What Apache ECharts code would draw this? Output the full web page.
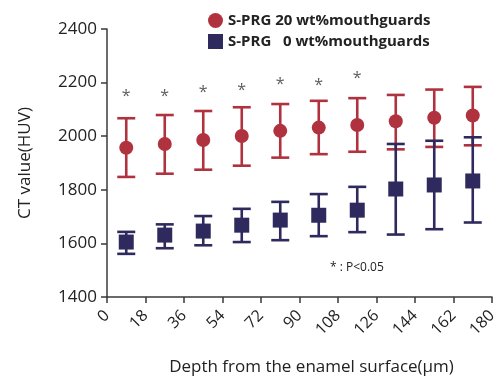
<!DOCTYPE html>
<html><head><meta charset="utf-8">
<script src="https://cdn.jsdelivr.net/npm/echarts@6/dist/echarts.min.js"></script>
<style>html,body{margin:0;padding:0;background:#fff}#c{width:499px;height:376px}</style>
</head><body><div id="c"></div>
<script>
const depth = [9, 27, 45, 63, 81, 99, 117, 135, 153, 171];
const xTicks = [0, 18, 36, 54, 72, 90, 108, 126, 144, 162, 180];
const yTicks = [1400, 1600, 1800, 2000, 2200, 2400];
const name20 = 'S-PRG 20 wt%mouthguards';
const name0 = 'S-PRG   0 wt%mouthguards';
const mean20 = [1957, 1971, 1986, 2001, 2020, 2032, 2042, 2056, 2069, 2077];
const upper20 = [2067, 2079, 2094, 2108, 2120, 2132, 2142, 2154, 2174, 2184];
const lower20 = [1848, 1860, 1875, 1890, 1920, 1933, 1942, 1951, 1960, 1966];
const mean0 = [1605, 1631, 1646, 1668, 1687, 1705, 1724, 1803, 1818, 1833];
const upper0 = [1643, 1671, 1702, 1729, 1755, 1784, 1811, 1971, 1983, 1996];
const lower0 = [1561, 1582, 1593, 1605, 1612, 1627, 1642, 1633, 1653, 1678];
const starY = [2150, 2150, 2163, 2171, 2195, 2190, 2215];

const RED = '#b1323f', NAVY = '#2e2a5e', AX = '#3a3a3a';
const FONT = 'Open Sans';

function errRender(color) {
  return function (params, api) {
    const x = api.value(0);
    const hi = api.coord([x, api.value(1)]);
    const lo = api.coord([x, api.value(2)]);
    const hw = 9, lw = 2.6;
    const st = { stroke: color, lineWidth: lw };
    return { type: 'group', children: [
      { type: 'line', shape: { x1: hi[0], y1: hi[1], x2: lo[0], y2: lo[1] }, style: st },
      { type: 'line', shape: { x1: hi[0] - hw, y1: hi[1], x2: hi[0] + hw, y2: hi[1] }, style: st },
      { type: 'line', shape: { x1: lo[0] - hw, y1: lo[1], x2: lo[0] + hw, y2: lo[1] }, style: st }
    ]};
  };
}

const chart = echarts.init(document.getElementById('c'), null, { renderer: 'canvas' });
chart.setOption({
  animation: false,
  textStyle: { fontFamily: FONT },
  grid: { left: 107, right: 7, top: 29, bottom: 79, containLabel: false, outerBoundsMode: 'none' },
  legend: {
    orient: 'vertical', left: 203, top: 8, itemGap: 6, itemWidth: 15, itemHeight: 15,
    data: [{ name: name20, icon: 'circle' }, { name: name0, icon: 'rect' }],
    textStyle: { fontFamily: FONT, fontWeight: 'bold', fontSize: 15, color: '#222' }
  },
  xAxis: {
    type: 'value', min: xTicks[0], max: xTicks[xTicks.length - 1], interval: 18,
    name: 'Depth from the enamel surface(μm)', nameLocation: 'middle', nameGap: 62,
    nameTextStyle: { fontSize: 17, color: '#222', fontFamily: FONT, padding: [0, 0, 0, 24] },
    axisLine: { lineStyle: { color: AX, width: 1.5 } },
    axisTick: { show: true, length: 6, lineStyle: { color: AX, width: 1.5 } },
    axisLabel: { rotate: 45, fontSize: 16, color: '#222', margin: 16, fontFamily: FONT },
    splitLine: { show: false }
  },
  yAxis: {
    type: 'value', min: yTicks[0], max: yTicks[yTicks.length - 1], interval: 200,
    name: 'CT value(HUV)', nameLocation: 'middle', nameGap: 73,
    nameTextStyle: { fontSize: 17, color: '#222', fontFamily: FONT },
    axisLine: { show: true, lineStyle: { color: AX, width: 1.5 } },
    axisTick: { show: true, length: 6, lineStyle: { color: AX, width: 1.5 } },
    axisLabel: { fontSize: 17, color: '#222', margin: 10, fontFamily: FONT, formatter: v => String(v) },
    splitLine: { show: false }
  },
  graphic: [{
    type: 'text', left: 330, top: 262,
    style: { text: '* : P<0.05', font: '12px "' + FONT + '"', fill: '#222' }
  }],
  series: [
    { type: 'custom', name: 'err20', z: 1, renderItem: errRender(RED), silent: true,
      data: depth.map((d, i) => [d, upper20[i], lower20[i]]) },
    { type: 'scatter', name: name20, z: 2, symbol: 'circle', symbolSize: 14,
      itemStyle: { color: RED, opacity: 1 }, emphasis: { disabled: true },
      data: depth.map((d, i) => [d, mean20[i]]) },
    { type: 'custom', name: 'err0', z: 3, renderItem: errRender(NAVY), silent: true,
      data: depth.map((d, i) => [d, upper0[i], lower0[i]]) },
    { type: 'scatter', name: name0, z: 4, symbol: 'rect', symbolSize: 15,
      itemStyle: { color: NAVY, opacity: 1 }, emphasis: { disabled: true },
      data: depth.map((d, i) => [d, mean0[i]]) },
    { type: 'scatter', name: 'sig', z: 5, symbol: 'circle', symbolSize: 2,
      itemStyle: { color: 'rgba(0,0,0,0)' }, emphasis: { disabled: true },
      label: { show: true, position: 'inside', formatter: '*', fontSize: 16, color: '#333', fontFamily: FONT },
      data: starY.map((v, i) => [depth[i], v]) }
  ]
});
</script></body></html>
